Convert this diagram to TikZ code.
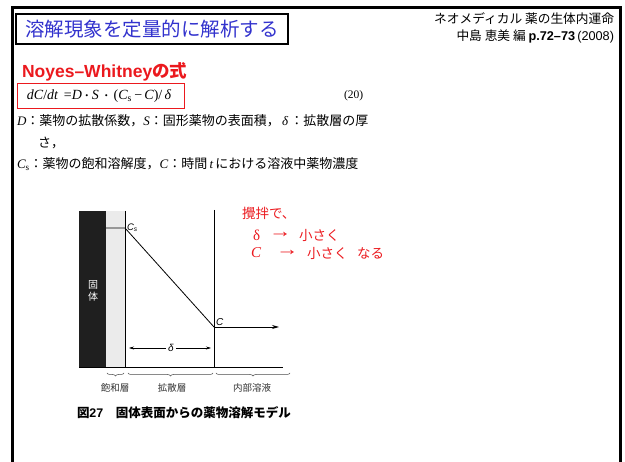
\RequirePackage{fix-cm}
\documentclass[tikz,border=0pt]{standalone}
\usepackage{fontspec}
\usepackage{graphicx}
\newfontfamily\jp{Noto Sans CJK JP}
\newfontfamily\ser{Liberation Serif}
\newfontfamily\sans{Liberation Sans}
\setmainfont{Liberation Serif}
\newcommand{\vi}[1]{{\ser\itshape #1}}
\usetikzlibrary{decorations.pathreplacing,arrows.meta}
\definecolor{titleblue}{RGB}{50,50,205}
\definecolor{slidered}{RGB}{235,25,30}
\tikzset{
  txt/.style={inner sep=0pt, outer sep=0pt},
  thinln/.style={line width=0.8pt, black},
  brc/.style={decorate, decoration={brace, mirror, amplitude=3pt}, line width=0.5pt, black!70},
  lbl/.style={txt, font=\jp\fontsize{9.5}{11}\selectfont, black!80},
  redt/.style={txt, text=slidered, font=\jp\fontsize{13.5}{16}\selectfont},
  redarr/.style={txt, text=slidered, font=\ser\fontsize{14}{16}\selectfont},
  deftxt/.style={txt, anchor=west, font=\jp\fontsize{13}{15}\selectfont},
}
\begin{document}
\begin{tikzpicture}[x=1pt,y=-1pt]
\useasboundingbox (0,0) rectangle (625,462);
% slide frame
\draw[line width=3pt] (12,462) -- (12,8) -- (620,8) -- (620,462);
% title
\node[draw=black, line width=1.8pt, minimum width=272pt, minimum height=30pt, inner sep=0pt, anchor=north west, text=titleblue, font=\jp\fontsize{19.5}{22}\selectfont] (title) at (15,13) {溶解現象を定量的に解析する};
% header
\node[txt, anchor=east, font=\jp\fontsize{12.7}{14}\selectfont] (ref1) at (614,19) {ネオメディカル 薬の生体内運命};
\node[txt, anchor=east, font=\jp\fontsize{12.7}{14}\selectfont] (ref2) at (614,36) {中島 恵美 編 {\sans\bfseries p.72–73}\,{\sans (2008)}};
% Noyes-Whitney
\node[txt, anchor=west, text=slidered, font=\fontsize{17.5}{20}\selectfont\bfseries] (nw) at (22,72) {\sans\bfseries Noyes–Whitney{\jp\bfseries の式}};
% formula box
\node[draw=slidered, line width=1.3pt, minimum width=167pt, minimum height=25pt, inner sep=0pt, anchor=north west] (eqbox) at (17,83) {};
\node[txt, anchor=west, font=\ser\fontsize{14}{15}\selectfont] (eq) at (27,96) {\vi{dC}/\vi{dt} \,=\vi{D}{\jp\fontsize{10}{10}\selectfont ・}\vi{S}\,{\jp\fontsize{10}{10}\selectfont ・}\,(\vi{C}\textsubscript{s}\,−\,\vi{C})/\,\vi{δ}};
\node[txt, anchor=west, font=\ser\fontsize{11.5}{13}\selectfont] (eqnum) at (344,96) {(20)};
% definitions
\node[deftxt] (def1) at (17,121) {\vi{D}：薬物の拡散係数，\vi{S}：固形薬物の表面積，\,\vi{δ}\,：拡散層の厚};
\node[deftxt] (def2) at (38,143) {さ，};
\node[deftxt] (def3) at (17,164) {\vi{C}{\ser\textsubscript{s}}：薬物の飽和溶解度，\vi{C}：時間\,\vi{t}\,における溶液中薬物濃度};
% diagram
\fill[black!88] (79,211) rectangle (106,367);
\fill[black!8] (106,211) rectangle (125,367);
\node[lbl, text=white, align=center, font=\jp\fontsize{10}{12}\selectfont] (solid) at (93,291) {固\\体};
\draw[thinln] (125,211) -- (125,367);
\draw[thinln] (106,228) -- (125,228) -- (214,327);
\draw[thinln] (214,210) -- (214,367);
\draw[thinln] (79,367) -- (283,367);
\coordinate (cpt) at (214,327);
\coordinate (cend) at (279,327);
\draw[thinln, -{Stealth[length=7pt,width=4pt]}] (cpt) -- (cend);
\node[txt, anchor=west, font=\sans\fontsize{9.5}{10}\selectfont\itshape] (cs) at (127,228) {C\textsubscript{s}};
\node[txt, anchor=west, font=\sans\fontsize{10}{10}\selectfont\itshape] (cl) at (216,322) {C};
\coordinate (dl) at (129,348);
\coordinate (dr) at (211,348);
\draw[line width=0.5pt, {Stealth[length=5pt,width=3pt]}-{Stealth[length=5pt,width=3pt]}] (dl) -- (dr);
\node[txt, fill=white, inner xsep=2pt, font=\sans\fontsize{10}{10}\selectfont\itshape] (dlt) at (171,348) {δ};
% braces
\draw[brc] (107,373) -- (124,373);
\draw[brc] (128,373) -- (213,373);
\draw[brc] (216,373) -- (290,373);
\node[lbl] (l1) at (115,388) {飽和層};
\node[lbl] (l2) at (172,388) {拡散層};
\node[lbl] (l3) at (252,388) {内部溶液};
\node[txt, anchor=west, font=\jp\fontsize{12.5}{14}\selectfont\bfseries] (cap) at (77,413) {図{\sans\bfseries 27}　固体表面からの薬物溶解モデル};
% red notes
\node[redt, anchor=west] (r1) at (242,213) {攪拌で、};
\node[redt, anchor=west, font=\ser\fontsize{15}{16}\selectfont] (r2a) at (253,235) {δ};
\node[redarr, anchor=west] (r2b) at (269,235) {\scalebox{1.6}[1.3]{→}};
\node[redt, anchor=west] (r2c) at (299,235) {小さく};
\node[redt, anchor=west, font=\ser\fontsize{15}{16}\selectfont\itshape] (r3a) at (251,253) {C};
\node[redarr, anchor=west] (r3b) at (276,253) {\scalebox{1.6}[1.3]{→}};
\node[redt, anchor=west] (r3c) at (307,253) {小さく};
\node[redt, anchor=west] (r3d) at (357,253) {なる};
\end{tikzpicture}
\end{document}
